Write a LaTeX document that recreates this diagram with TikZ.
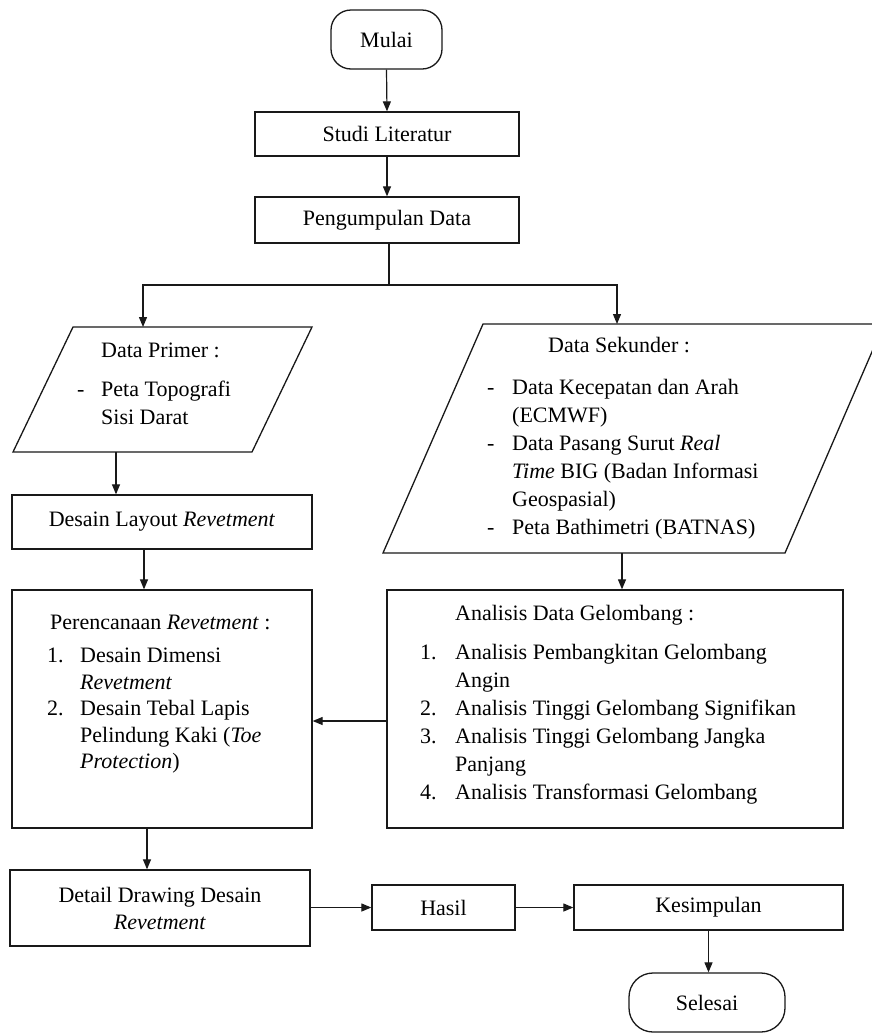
\documentclass[tikz,border=0pt]{standalone}
\usepackage{fontspec}
\setmainfont{Liberation Serif}
\usetikzlibrary{arrows.meta}
\begin{document}
\begin{tikzpicture}[x=1pt,y=-1pt,
  stdbox/.style={draw=black!90, line width=1.3pt, inner sep=0pt, align=center,
    font=\fontsize{22}{27}\selectfont},
  term/.style={stdbox, rounded corners=20pt},
  outline/.style={draw=black!90, line width=1.3pt, line join=miter},
  txt/.style={inner sep=0pt, anchor=base west, font=\fontsize{22}{28}\selectfont},
  arr/.style={draw=black!90, line width=1.2pt, -{Triangle[length=10pt,width=8pt]}},
  ln/.style={draw=black!90, line width=1.2pt}]
\clip (0,0) rectangle (872,1034);
\fill[white] (0,0) rectangle (872,1034);

% terminals and process boxes
\node[term, minimum width=111pt, minimum height=59pt] (mulai) at (386.5,39.5) {Mulai};
\node[stdbox, minimum width=264pt, minimum height=44pt] (studi) at (387,134) {Studi Literatur};
\node[stdbox, minimum width=264pt, minimum height=46pt] (kumpul) at (387,220) {Pengumpulan Data};

% parallelograms (data)
\draw[outline] (73,327) -- (312,327) -- (252,452) -- (13,452) -- cycle;
\coordinate (dptop) at (143,327);
\coordinate (dpbot) at (116,452);
\node[txt] (dptxt) at (77,357) {\begin{tabular}[t]{@{}p{24pt}@{}l@{}}
\multicolumn{2}{@{}l@{}}{\hspace*{24pt}Data Primer :}\\[11pt]
- & Peta Topografi\\
  & Sisi Darat
\end{tabular}};

\draw[outline] (483,324) -- (884,324) -- (785,553) -- (383,553) -- cycle;
\coordinate (dstop) at (617,324);
\coordinate (dsbot) at (622,553);
\node[txt] (dstxt) at (487,352) {\begin{tabular}[t]{@{}p{25pt}@{}l@{}}
\multicolumn{2}{@{}l@{}}{\hspace*{61pt}Data Sekunder :}\\[14pt]
- & Data Kecepatan dan Arah\\
  & (ECMWF)\\
- & Data Pasang Surut \textit{Real}\\
  & \textit{Time} BIG (Badan Informasi\\
  & Geospasial)\\
- & Peta Bathimetri (BATNAS)
\end{tabular}};

\node[stdbox, minimum width=300pt, minimum height=54pt] (layout) at (162,522) {Desain Layout \textit{Revetment}};

% large boxes
\node[stdbox, minimum width=300pt, minimum height=238pt] (plan) at (162,709) {};
\node[txt, font=\fontsize{22}{26.5}\selectfont] (plantxt) at (47,629) {\begin{tabular}[t]{@{}p{33pt}@{}l@{}}
\multicolumn{2}{@{}l@{}}{\hspace*{3pt}Perencanaan \textit{Revetment} :}\\[7pt]
1. & Desain Dimensi\\
   & \textit{Revetment}\\
2. & Desain Tebal Lapis\\
   & Pelindung Kaki (\textit{Toe}\\
   & \textit{Protection})
\end{tabular}};

\node[stdbox, minimum width=456pt, minimum height=238pt] (ana) at (615,709) {};
\node[txt] (anatxt) at (420,620) {\begin{tabular}[t]{@{}p{35pt}@{}l@{}}
\multicolumn{2}{@{}l@{}}{\hspace*{35pt}Analisis Data Gelombang :}\\[11pt]
1. & Analisis Pembangkitan Gelombang\\
   & Angin\\
2. & Analisis Tinggi Gelombang Signifikan\\
3. & Analisis Tinggi Gelombang Jangka\\
   & Panjang\\
4. & Analisis Transformasi Gelombang
\end{tabular}};

% bottom row
\node[stdbox, minimum width=300pt, minimum height=76pt] (detail) at (160,908) {Detail Drawing Desain\\\textit{Revetment}};
\node[stdbox, minimum width=143pt, minimum height=45pt] (hasil) at (443.5,907.5) {Hasil};
\node[stdbox, minimum width=269pt, minimum height=45pt] (simpul) at (708.5,907.5) {Kesimpulan};
\node[term, rounded corners=24pt, minimum width=156pt, minimum height=59pt] (selesai) at (707,1002.5) {Selesai};

% connectors
\draw[arr] (mulai.south) -- (studi.north);
\draw[arr] (studi.south) -- (kumpul.north);
\coordinate (split) at (389,285);
\draw[ln] ([xshift=2pt]kumpul.south) -- (split);
\draw[arr] (split) -| (dptop);
\draw[arr] (split) -| (dstop);
\draw[arr] (dpbot) -- (dpbot |- layout.north);
\draw[arr] ([xshift=-18pt]layout.south) -- ([xshift=-18pt]plan.north);
\draw[arr] (dsbot) -- (dsbot |- ana.north);
\draw[arr] ([yshift=-12pt]ana.west) -- ([yshift=-12pt]plan.east);
\draw[arr] ([xshift=-15pt]plan.south) -- ([xshift=-13pt]detail.north);
\draw[arr] (detail.east |- hasil.west) -- (hasil.west);
\draw[arr] (hasil.east) -- (simpul.west);
\draw[arr] (simpul.south) -- (simpul.south |- selesai.north);
\end{tikzpicture}
\end{document}
